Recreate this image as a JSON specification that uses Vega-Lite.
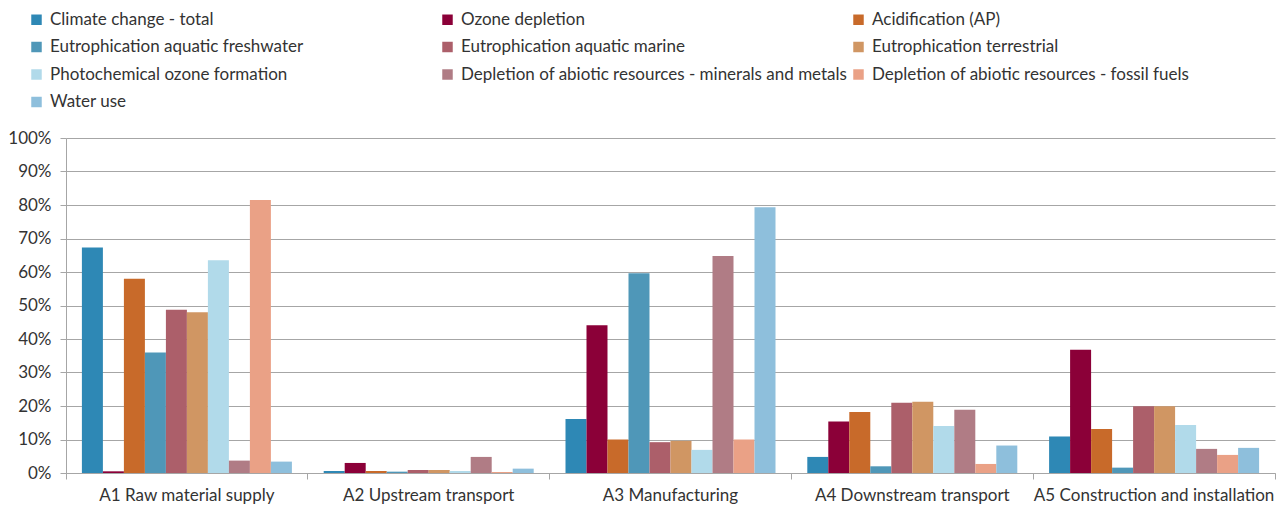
{
  "$schema": "https://vega.github.io/schema/vega-lite/v6.json",
  "width": 1209,
  "height": 335,
  "autosize": "none",
  "padding": {"left": 66, "top": 138, "right": 1, "bottom": 34},
  "background": "white",
  "config": {"font": "Lato", "view": {"stroke": null}},
  "data": {
    "values": [
      {"stage": "A1 Raw material supply", "indicator": "Climate change - total", "value": 0.673},
      {"stage": "A1 Raw material supply", "indicator": "Ozone depletion", "value": 0.005},
      {"stage": "A1 Raw material supply", "indicator": "Acidification (AP)", "value": 0.58},
      {"stage": "A1 Raw material supply", "indicator": "Eutrophication aquatic freshwater", "value": 0.36},
      {"stage": "A1 Raw material supply", "indicator": "Eutrophication aquatic marine", "value": 0.487},
      {"stage": "A1 Raw material supply", "indicator": "Eutrophication terrestrial", "value": 0.48},
      {"stage": "A1 Raw material supply", "indicator": "Photochemical ozone formation", "value": 0.635},
      {"stage": "A1 Raw material supply", "indicator": "Depletion of abiotic resources - minerals and metals", "value": 0.037},
      {"stage": "A1 Raw material supply", "indicator": "Depletion of abiotic resources - fossil fuels", "value": 0.815},
      {"stage": "A1 Raw material supply", "indicator": "Water use", "value": 0.034},
      {"stage": "A2 Upstream transport", "indicator": "Climate change - total", "value": 0.006},
      {"stage": "A2 Upstream transport", "indicator": "Ozone depletion", "value": 0.03},
      {"stage": "A2 Upstream transport", "indicator": "Acidification (AP)", "value": 0.006},
      {"stage": "A2 Upstream transport", "indicator": "Eutrophication aquatic freshwater", "value": 0.004},
      {"stage": "A2 Upstream transport", "indicator": "Eutrophication aquatic marine", "value": 0.009},
      {"stage": "A2 Upstream transport", "indicator": "Eutrophication terrestrial", "value": 0.009},
      {"stage": "A2 Upstream transport", "indicator": "Photochemical ozone formation", "value": 0.006},
      {"stage": "A2 Upstream transport", "indicator": "Depletion of abiotic resources - minerals and metals", "value": 0.048},
      {"stage": "A2 Upstream transport", "indicator": "Depletion of abiotic resources - fossil fuels", "value": 0.003},
      {"stage": "A2 Upstream transport", "indicator": "Water use", "value": 0.013},
      {"stage": "A3 Manufacturing", "indicator": "Climate change - total", "value": 0.161},
      {"stage": "A3 Manufacturing", "indicator": "Ozone depletion", "value": 0.441},
      {"stage": "A3 Manufacturing", "indicator": "Acidification (AP)", "value": 0.10},
      {"stage": "A3 Manufacturing", "indicator": "Eutrophication aquatic freshwater", "value": 0.596},
      {"stage": "A3 Manufacturing", "indicator": "Eutrophication aquatic marine", "value": 0.092},
      {"stage": "A3 Manufacturing", "indicator": "Eutrophication terrestrial", "value": 0.096},
      {"stage": "A3 Manufacturing", "indicator": "Photochemical ozone formation", "value": 0.069},
      {"stage": "A3 Manufacturing", "indicator": "Depletion of abiotic resources - minerals and metals", "value": 0.648},
      {"stage": "A3 Manufacturing", "indicator": "Depletion of abiotic resources - fossil fuels", "value": 0.10},
      {"stage": "A3 Manufacturing", "indicator": "Water use", "value": 0.793},
      {"stage": "A4 Downstream transport", "indicator": "Climate change - total", "value": 0.048},
      {"stage": "A4 Downstream transport", "indicator": "Ozone depletion", "value": 0.154},
      {"stage": "A4 Downstream transport", "indicator": "Acidification (AP)", "value": 0.182},
      {"stage": "A4 Downstream transport", "indicator": "Eutrophication aquatic freshwater", "value": 0.02},
      {"stage": "A4 Downstream transport", "indicator": "Eutrophication aquatic marine", "value": 0.21},
      {"stage": "A4 Downstream transport", "indicator": "Eutrophication terrestrial", "value": 0.213},
      {"stage": "A4 Downstream transport", "indicator": "Photochemical ozone formation", "value": 0.14},
      {"stage": "A4 Downstream transport", "indicator": "Depletion of abiotic resources - minerals and metals", "value": 0.189},
      {"stage": "A4 Downstream transport", "indicator": "Depletion of abiotic resources - fossil fuels", "value": 0.027},
      {"stage": "A4 Downstream transport", "indicator": "Water use", "value": 0.082},
      {"stage": "A5 Construction and installation", "indicator": "Climate change - total", "value": 0.109},
      {"stage": "A5 Construction and installation", "indicator": "Ozone depletion", "value": 0.368},
      {"stage": "A5 Construction and installation", "indicator": "Acidification (AP)", "value": 0.131},
      {"stage": "A5 Construction and installation", "indicator": "Eutrophication aquatic freshwater", "value": 0.016},
      {"stage": "A5 Construction and installation", "indicator": "Eutrophication aquatic marine", "value": 0.199},
      {"stage": "A5 Construction and installation", "indicator": "Eutrophication terrestrial", "value": 0.199},
      {"stage": "A5 Construction and installation", "indicator": "Photochemical ozone formation", "value": 0.143},
      {"stage": "A5 Construction and installation", "indicator": "Depletion of abiotic resources - minerals and metals", "value": 0.072},
      {"stage": "A5 Construction and installation", "indicator": "Depletion of abiotic resources - fossil fuels", "value": 0.054},
      {"stage": "A5 Construction and installation", "indicator": "Water use", "value": 0.075}
    ]
  },
  "mark": {"type": "bar"},
  "encoding": {
    "x": {
      "field": "stage",
      "type": "nominal",
      "sort": null,
      "scale": {"paddingInner": 0, "paddingOuter": 0},
      "axis": {
        "title": null,
        "labelAngle": 0,
        "labelFontSize": 17,
        "labelColor": "#333333",
        "labelLimit": 400,
        "bandPosition": 1,
        "tickExtra": true,
        "tickSize": 6,
        "tickColor": "#a6a6a6",
        "domainColor": "#a6a6a6",
        "labelPadding": 8,
        "grid": false
      }
    },
    "xOffset": {
      "field": "indicator",
      "type": "nominal",
      "sort": null,
      "scale": {"paddingInner": 0, "paddingOuter": 0.757}
    },
    "y": {
      "field": "value",
      "type": "quantitative",
      "scale": {"domain": [0, 1]},
      "axis": {
        "title": null,
        "format": ".0%",
        "values": [0, 0.1, 0.2, 0.3, 0.4, 0.5, 0.6, 0.7, 0.8, 0.9, 1],
        "labelFontSize": 17,
        "labelColor": "#333333",
        "tickSize": 6,
        "tickColor": "#a6a6a6",
        "domainColor": "#a6a6a6",
        "gridColor": "#a6a6a6",
        "gridOpacity": 1,
        "labelPadding": 9
      }
    },
    "color": {
      "field": "indicator",
      "type": "nominal",
      "sort": null,
      "scale": {
        "domain": [
          "Climate change - total",
          "Ozone depletion",
          "Acidification (AP)",
          "Eutrophication aquatic freshwater",
          "Eutrophication aquatic marine",
          "Eutrophication terrestrial",
          "Photochemical ozone formation",
          "Depletion of abiotic resources - minerals and metals",
          "Depletion of abiotic resources - fossil fuels",
          "Water use"
        ],
        "range": ["#2e88b5", "#8b0038", "#c86a2a", "#4f97b8", "#ac5f6a", "#d09663", "#b1daea", "#b07c85", "#eaa186", "#8ebfdc"]
      },
      "legend": {
        "title": null,
        "orient": "none",
        "legendX": -38,
        "legendY": -127,
        "direction": "horizontal",
        "columns": 3,
        "gridAlign": "all",
        "columnPadding": 2,
        "rowPadding": 9.5,
        "symbolType": "square",
        "symbolSize": 110,
        "symbolStrokeWidth": 0,
        "labelFontSize": 17,
        "labelColor": "#333333",
        "labelOffset": 5,
        "labelLimit": 500
      }
    }
  }
}
